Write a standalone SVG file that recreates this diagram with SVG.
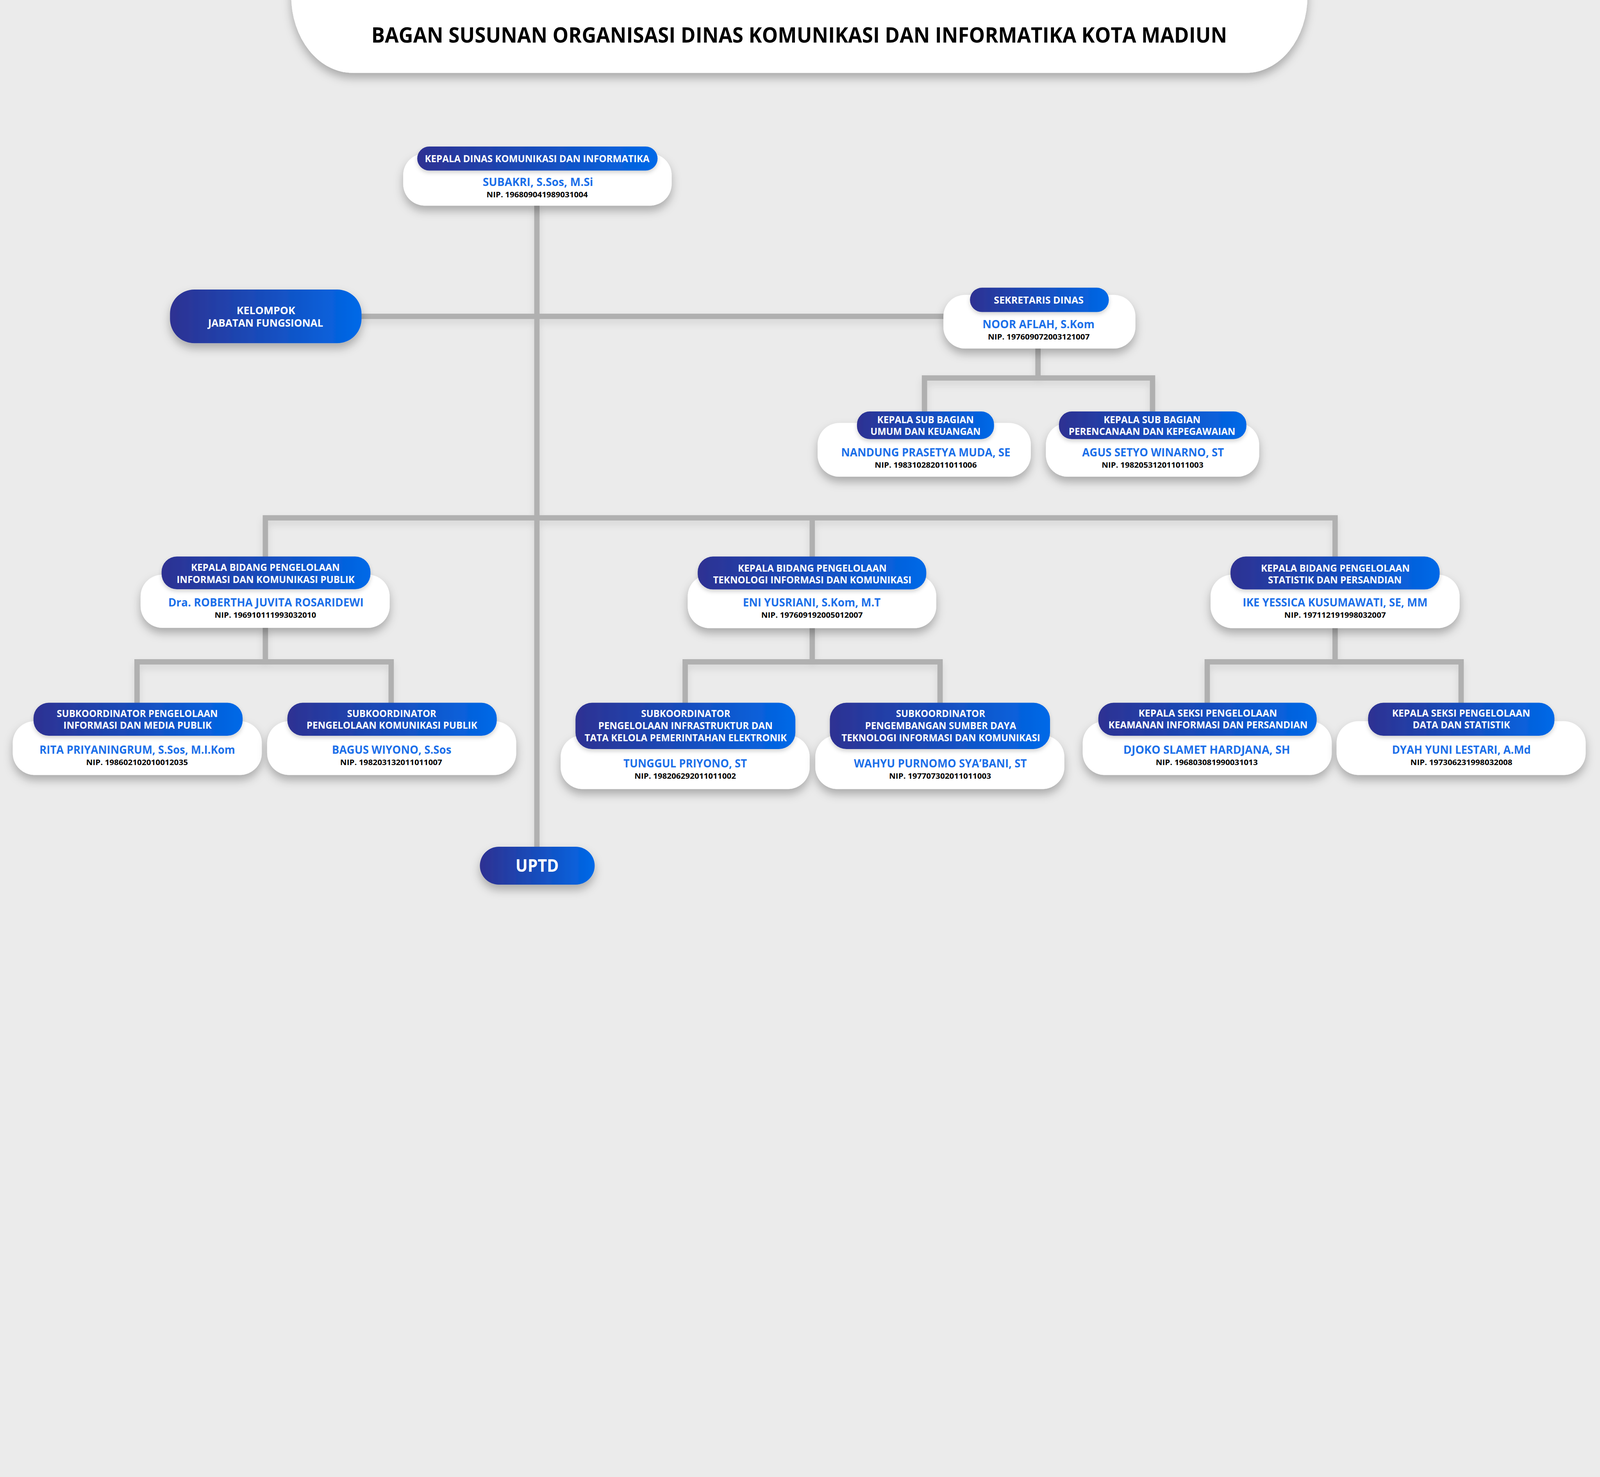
<svg xmlns="http://www.w3.org/2000/svg" width="6253" height="3780" viewBox="0 0 6253 3780">
<defs>
<linearGradient id="g" x1="0" y1="0" x2="1" y2="0">
<stop offset="0" stop-color="#2e3192"/>
<stop offset="1" stop-color="#0069e8"/>
</linearGradient>
<filter id="sh" x="-20%" y="-40%" width="140%" height="200%">
<feDropShadow dx="0" dy="20" stdDeviation="18" flood-color="#000" flood-opacity="0.28"/>
</filter>
<filter id="shs" x="-20%" y="-40%" width="140%" height="200%">
<feDropShadow dx="0" dy="8" stdDeviation="8" flood-color="#000" flood-opacity="0.18"/>
</filter>
<filter id="shc" x="-5%" y="-5%" width="110%" height="115%">
<feDropShadow dx="0" dy="16" stdDeviation="14" flood-color="#000" flood-opacity="0.10"/>
</filter>
<style>
text{font-family:"Open Sans","Noto Sans","Liberation Sans",sans-serif;font-weight:700;text-anchor:middle}
.t{font-size:82px;fill:#000}
.hd{font-size:38px;fill:#fff}
.kl{font-size:40px;fill:#fff}
.nm{font-size:44px;fill:#1b6fe9}
.nip{font-size:30px;fill:#000}
.up{font-size:67px;fill:#fff}
.wb{fill:#fff;filter:url(#sh)}
.bh{fill:url(#g);filter:url(#shs)}
.bb{fill:url(#g);filter:url(#sh)}
.c{fill:none;stroke:#b0b0b0;stroke-width:21;stroke-linejoin:miter}
@media (max-width: 6200px) {
#diagram{transform:scale(0.6545)}
}
</style>
</defs>
<rect x="0" y="0" width="6253" height="3780" fill="#ebebeb"/>
<g id="diagram">
<rect x="0" y="0" width="6253" height="3780" fill="#ebebeb"/>
<g id="title">
<rect x="1139" y="-320" width="3975" height="605" rx="240" ry="300" fill="#fff" filter="url(#sh)"/>
<text class="t" x="3126" y="166" textLength="3347" lengthAdjust="spacingAndGlyphs">BAGAN SUSUNAN ORGANISASI DINAS KOMUNIKASI DAN INFORMATIKA KOTA MADIUN</text>
</g>
<g id="connectors" filter="url(#shc)">
<path class="c" d="M2100 800V3315"/>
<path class="c" d="M1400 1237H3700"/>
<path class="c" d="M4060 1360V1478"/>
<path class="c" d="M3616 1612V1478H4508V1612"/>
<path class="c" d="M1038 2180V2025H5222V2180"/>
<path class="c" d="M3177 2025V2180"/>
<path class="c" d="M1038 2450V2588"/>
<path class="c" d="M536 2752V2588H1530V2752"/>
<path class="c" d="M3177 2450V2588"/>
<path class="c" d="M2680 2752V2588H3677V2752"/>
<path class="c" d="M5222 2450V2588"/>
<path class="c" d="M4722 2752V2588H5715V2752"/>
</g>
<g id="kepala-dinas">
<rect class="wb" x="1577" y="600" width="1050" height="204" rx="85"/>
<rect class="bh" x="1632" y="573" width="940" height="94" rx="47"/>
<text class="hd" x="2101" y="634" textLength="879" lengthAdjust="spacingAndGlyphs">KEPALA DINAS KOMUNIKASI DAN INFORMATIKA</text>
<text class="nm" x="2104" y="728" textLength="432" lengthAdjust="spacingAndGlyphs">SUBAKRI, S.Sos, M.Si</text>
<text class="nip" x="2101" y="772" textLength="396" lengthAdjust="spacingAndGlyphs">NIP. 196809041989031004</text>
</g>
<g id="kelompok">
<rect class="bb" x="665" y="1132" width="749" height="210" rx="95"/>
<text class="kl" x="1040" y="1228" textLength="229" lengthAdjust="spacingAndGlyphs">KELOMPOK</text>
<text class="kl" x="1039" y="1278" textLength="450" lengthAdjust="spacingAndGlyphs">JABATAN FUNGSIONAL</text>
</g>
<g id="sekretaris">
<rect class="wb" x="3690" y="1153" width="751" height="210" rx="85"/>
<rect class="bh" x="3794" y="1125" width="543" height="95" rx="47"/>
<text class="hd" x="4063" y="1187" textLength="351" lengthAdjust="spacingAndGlyphs">SEKRETARIS DINAS</text>
<text class="nm" x="4062" y="1283" textLength="438" lengthAdjust="spacingAndGlyphs">NOOR AFLAH, S.Kom</text>
<text class="nip" x="4063" y="1328" textLength="398" lengthAdjust="spacingAndGlyphs">NIP. 197609072003121007</text>
</g>
<g id="subbag-umum">
<rect class="wb" x="3198" y="1654" width="834" height="210" rx="85"/>
<rect class="bh" x="3352" y="1609" width="536" height="108" rx="50"/>
<text class="hd" x="3620" y="1654" textLength="378" lengthAdjust="spacingAndGlyphs">KEPALA SUB BAGIAN</text>
<text class="hd" x="3620" y="1700" textLength="431" lengthAdjust="spacingAndGlyphs">UMUM DAN KEUANGAN</text>
<text class="nm" x="3621" y="1785" textLength="662" lengthAdjust="spacingAndGlyphs">NANDUNG PRASETYA MUDA, SE</text>
<text class="nip" x="3621" y="1829" textLength="399" lengthAdjust="spacingAndGlyphs">NIP. 198310282011011006</text>
</g>
<g id="subbag-perencanaan">
<rect class="wb" x="4091" y="1654" width="834" height="210" rx="85"/>
<rect class="bh" x="4142" y="1609" width="733" height="108" rx="50"/>
<text class="hd" x="4506" y="1654" textLength="379" lengthAdjust="spacingAndGlyphs">KEPALA SUB BAGIAN</text>
<text class="hd" x="4506" y="1700" textLength="652" lengthAdjust="spacingAndGlyphs">PERENCANAAN DAN KEPEGAWAIAN</text>
<text class="nm" x="4510" y="1785" textLength="555" lengthAdjust="spacingAndGlyphs">AGUS SETYO WINARNO, ST</text>
<text class="nip" x="4508" y="1829" textLength="398" lengthAdjust="spacingAndGlyphs">NIP. 198205312011011003</text>
</g>
<g id="bidang-ikp">
<rect class="wb" x="550" y="2247" width="974" height="208" rx="85"/>
<rect class="bh" x="632" y="2176" width="817" height="128" rx="60"/>
<text class="hd" x="1038" y="2233" textLength="582" lengthAdjust="spacingAndGlyphs">KEPALA BIDANG PENGELOLAAN</text>
<text class="hd" x="1039" y="2279" textLength="696" lengthAdjust="spacingAndGlyphs">INFORMASI DAN KOMUNIKASI PUBLIK</text>
<text class="nm" x="1040" y="2371" textLength="764" lengthAdjust="spacingAndGlyphs">Dra. ROBERTHA JUVITA ROSARIDEWI</text>
<text class="nip" x="1038" y="2415" textLength="397" lengthAdjust="spacingAndGlyphs">NIP. 196910111993032010</text>
</g>
<g id="bidang-tik">
<rect class="wb" x="2690" y="2247" width="972" height="209" rx="85"/>
<rect class="bh" x="2729" y="2176" width="894" height="129" rx="60"/>
<text class="hd" x="3177" y="2235" textLength="582" lengthAdjust="spacingAndGlyphs">KEPALA BIDANG PENGELOLAAN</text>
<text class="hd" x="3177" y="2281" textLength="776" lengthAdjust="spacingAndGlyphs">TEKNOLOGI INFORMASI DAN KOMUNIKASI</text>
<text class="nm" x="3175" y="2372" textLength="539" lengthAdjust="spacingAndGlyphs">ENI YUSRIANI, S.Kom, M.T</text>
<text class="nip" x="3176" y="2416" textLength="397" lengthAdjust="spacingAndGlyphs">NIP. 197609192005012007</text>
</g>
<g id="bidang-sp">
<rect class="wb" x="4735" y="2247" width="974" height="209" rx="85"/>
<rect class="bh" x="4813" y="2176" width="818" height="129" rx="60"/>
<text class="hd" x="5223" y="2235" textLength="582" lengthAdjust="spacingAndGlyphs">KEPALA BIDANG PENGELOLAAN</text>
<text class="hd" x="5221" y="2281" textLength="523" lengthAdjust="spacingAndGlyphs">STATISTIK DAN PERSANDIAN</text>
<text class="nm" x="5222" y="2372" textLength="723" lengthAdjust="spacingAndGlyphs">IKE YESSICA KUSUMAWATI, SE, MM</text>
<text class="nip" x="5222" y="2416" textLength="397" lengthAdjust="spacingAndGlyphs">NIP. 197112191998032007</text>
</g>
<g id="sub-imp">
<rect class="wb" x="50" y="2820" width="974" height="210" rx="85"/>
<rect class="bh" x="131" y="2748" width="818" height="129" rx="60"/>
<text class="hd" x="537" y="2803" textLength="630" lengthAdjust="spacingAndGlyphs">SUBKOORDINATOR PENGELOLAAN</text>
<text class="hd" x="538" y="2849" textLength="580" lengthAdjust="spacingAndGlyphs">INFORMASI DAN MEDIA PUBLIK</text>
<text class="nm" x="537" y="2947" textLength="765" lengthAdjust="spacingAndGlyphs">RITA PRIYANINGRUM, S.Sos, M.I.Kom</text>
<text class="nip" x="536" y="2992" textLength="398" lengthAdjust="spacingAndGlyphs">NIP. 198602102010012035</text>
</g>
<g id="sub-pkp">
<rect class="wb" x="1045" y="2820" width="974" height="210" rx="85"/>
<rect class="bh" x="1124" y="2748" width="819" height="129" rx="60"/>
<text class="hd" x="1532" y="2803" textLength="349" lengthAdjust="spacingAndGlyphs">SUBKOORDINATOR</text>
<text class="hd" x="1533" y="2849" textLength="668" lengthAdjust="spacingAndGlyphs">PENGELOLAAN KOMUNIKASI PUBLIK</text>
<text class="nm" x="1532" y="2947" textLength="467" lengthAdjust="spacingAndGlyphs">BAGUS WIYONO, S.Sos</text>
<text class="nip" x="1530" y="2992" textLength="399" lengthAdjust="spacingAndGlyphs">NIP. 198203132011011007</text>
</g>
<g id="sub-infra">
<rect class="wb" x="2193" y="2875" width="974" height="210" rx="85"/>
<rect class="bh" x="2251" y="2748" width="860" height="181" rx="65"/>
<text class="hd" x="2682" y="2804" textLength="349" lengthAdjust="spacingAndGlyphs">SUBKOORDINATOR</text>
<text class="hd" x="2681" y="2851" textLength="682" lengthAdjust="spacingAndGlyphs">PENGELOLAAN INFRASTRUKTUR DAN</text>
<text class="hd" x="2682" y="2898" textLength="791" lengthAdjust="spacingAndGlyphs">TATA KELOLA PEMERINTAHAN ELEKTRONIK</text>
<text class="nm" x="2680" y="3001" textLength="483" lengthAdjust="spacingAndGlyphs">TUNGGUL PRIYONO, ST</text>
<text class="nip" x="2680" y="3045" textLength="397" lengthAdjust="spacingAndGlyphs">NIP. 198206292011011002</text>
</g>
<g id="sub-sdm">
<rect class="wb" x="3189" y="2875" width="974" height="210" rx="85"/>
<rect class="bh" x="3246" y="2748" width="861" height="181" rx="65"/>
<text class="hd" x="3679" y="2804" textLength="349" lengthAdjust="spacingAndGlyphs">SUBKOORDINATOR</text>
<text class="hd" x="3679" y="2851" textLength="591" lengthAdjust="spacingAndGlyphs">PENGEMBANGAN SUMBER DAYA</text>
<text class="hd" x="3680" y="2898" textLength="777" lengthAdjust="spacingAndGlyphs">TEKNOLOGI INFORMASI DAN KOMUNIKASI</text>
<text class="nm" x="3678" y="3001" textLength="676" lengthAdjust="spacingAndGlyphs">WAHYU PURNOMO SYA’BANI, ST</text>
<text class="nip" x="3677" y="3045" textLength="399" lengthAdjust="spacingAndGlyphs">NIP. 197707302011011003</text>
</g>
<g id="seksi-kip">
<rect class="wb" x="4235" y="2820" width="974" height="210" rx="85"/>
<rect class="bh" x="4296" y="2748" width="854" height="129" rx="60"/>
<text class="hd" x="4724" y="2802" textLength="542" lengthAdjust="spacingAndGlyphs">KEPALA SEKSI PENGELOLAAN</text>
<text class="hd" x="4725" y="2848" textLength="779" lengthAdjust="spacingAndGlyphs">KEAMANAN INFORMASI DAN PERSANDIAN</text>
<text class="nm" x="4720" y="2947" textLength="652" lengthAdjust="spacingAndGlyphs">DJOKO SLAMET HARDJANA, SH</text>
<text class="nip" x="4720" y="2992" textLength="399" lengthAdjust="spacingAndGlyphs">NIP. 196803081990031013</text>
</g>
<g id="seksi-ds">
<rect class="wb" x="5228" y="2820" width="974" height="210" rx="85"/>
<rect class="bh" x="5351" y="2748" width="729" height="129" rx="60"/>
<text class="hd" x="5715" y="2802" textLength="540" lengthAdjust="spacingAndGlyphs">KEPALA SEKSI PENGELOLAAN</text>
<text class="hd" x="5716" y="2848" textLength="381" lengthAdjust="spacingAndGlyphs">DATA DAN STATISTIK</text>
<text class="nm" x="5716" y="2947" textLength="543" lengthAdjust="spacingAndGlyphs">DYAH YUNI LESTARI, A.Md</text>
<text class="nip" x="5716" y="2992" textLength="399" lengthAdjust="spacingAndGlyphs">NIP. 197306231998032008</text>
</g>
<g id="uptd">
<rect class="bb" x="1877" y="3311" width="449" height="148" rx="74"/>
<text class="up" x="2101" y="3409" textLength="169" lengthAdjust="spacingAndGlyphs">UPTD</text>
</g>
</g>
</svg>
